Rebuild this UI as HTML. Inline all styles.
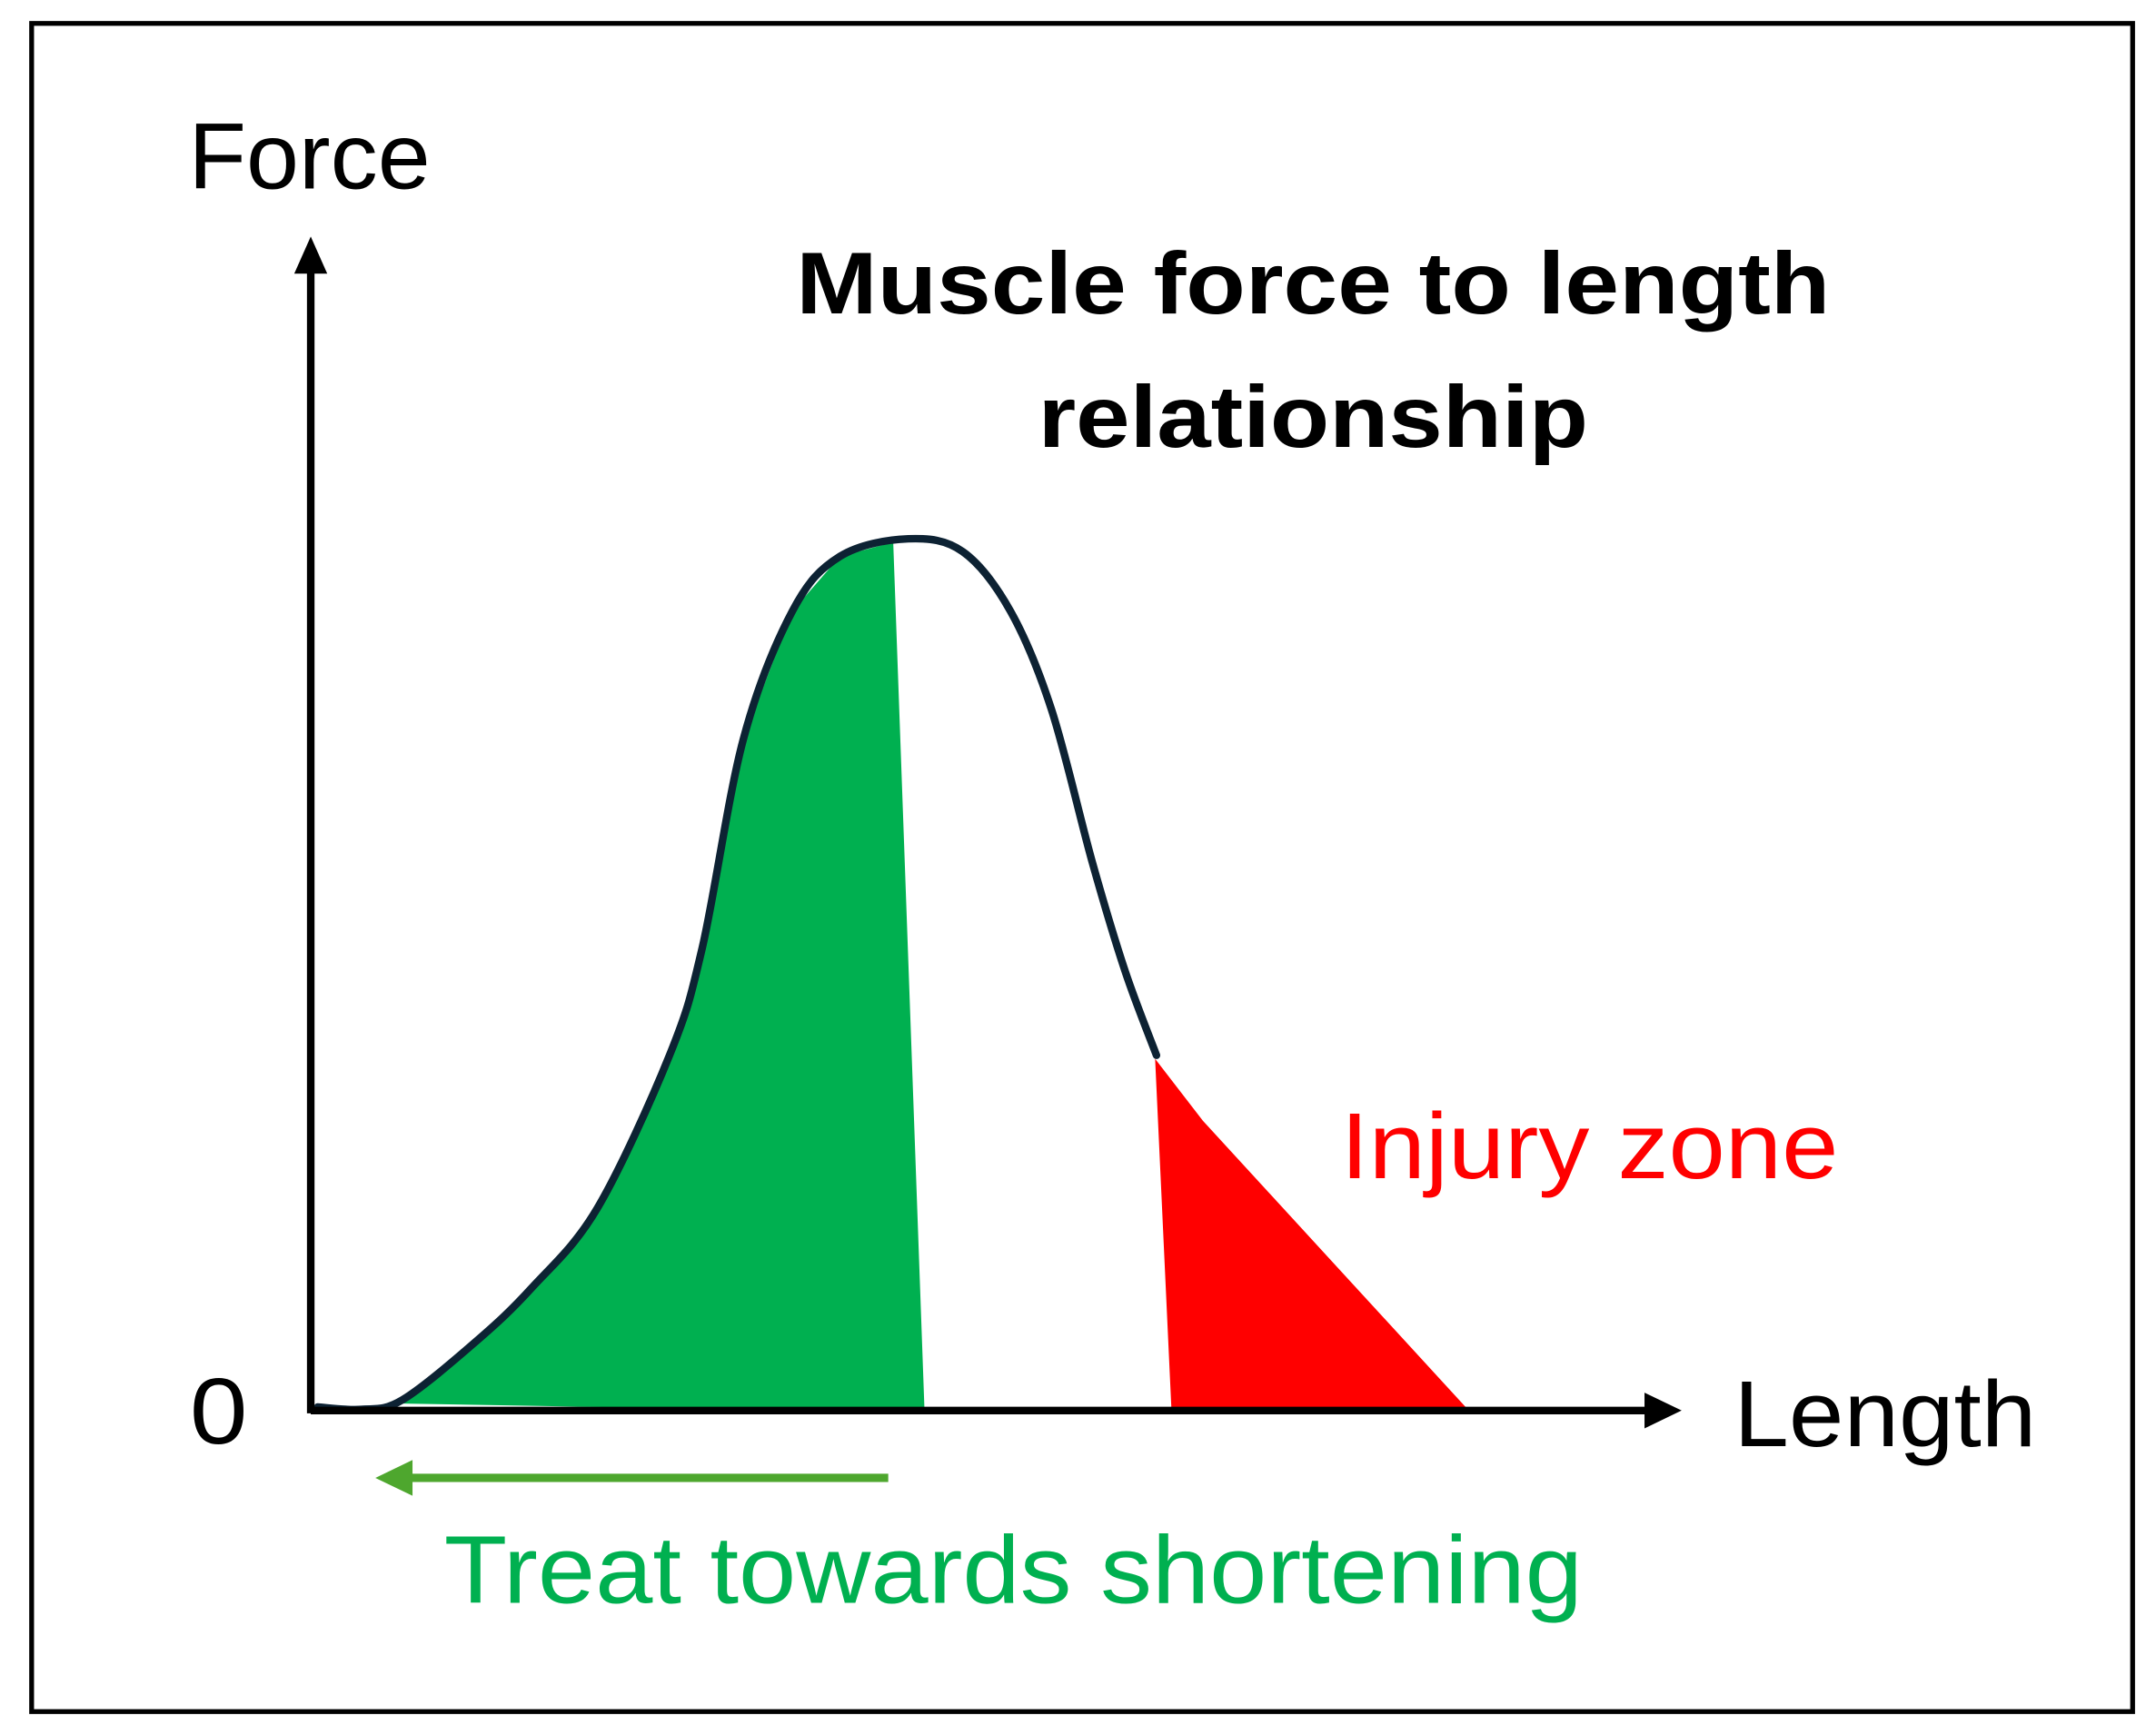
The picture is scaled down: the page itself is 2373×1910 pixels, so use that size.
<!DOCTYPE html>
<html><head><meta charset="utf-8"><style>
html,body{margin:0;padding:0;background:#fff;width:2373px;height:1910px;overflow:hidden}
svg{display:block}
text{font-family:"Liberation Sans",sans-serif}
</style></head><body>
<svg id="chart" width="2373" height="1910" viewBox="0 0 1568 1262" xmlns="http://www.w3.org/2000/svg">
<rect x="23" y="17" width="1528" height="1228" fill="#fff" stroke="#000" stroke-width="3.5"/>
<g id="marks"></g>
<line x1="226" y1="1028" x2="226" y2="192" stroke="#000" stroke-width="5.5"/>
<polygon points="226,172 214,199 238,199" fill="#000"/>
<line x1="226" y1="1026" x2="1200" y2="1026" stroke="#000" stroke-width="5.5"/>
<polygon points="1223,1026 1196,1013 1196,1039" fill="#000"/>
<text x="137" y="137" font-size="68" textLength="176" lengthAdjust="spacingAndGlyphs">Force</text>
<text x="138" y="1050" font-size="68" textLength="42" lengthAdjust="spacingAndGlyphs">0</text>
<text x="1261" y="1052" font-size="68" textLength="220" lengthAdjust="spacingAndGlyphs">Length</text>
<text x="955" y="228" font-size="64" font-weight="bold" text-anchor="middle" textLength="752" lengthAdjust="spacingAndGlyphs">Muscle force to length</text>
<text x="955" y="325" font-size="64" font-weight="bold" text-anchor="middle" textLength="400" lengthAdjust="spacingAndGlyphs">relationship</text>
<text x="975" y="857" font-size="68" fill="#ff0000" textLength="362" lengthAdjust="spacingAndGlyphs">Injury zone</text>
<line x1="646" y1="1075" x2="295" y2="1075" stroke="#4ea72e" stroke-width="6"/>
<polygon points="273,1075 300,1062 300,1088" fill="#4ea72e"/>
<text x="323" y="1166" font-size="70" fill="#00b050" textLength="828" lengthAdjust="spacingAndGlyphs">Treat towards shortening</text>
</svg>
<script>
// data in axis units: length 0-100, force 0-100
const curveLength = [0.1, 3.3, 6.3, 11.7, 15.8, 20.6, 25.9, 28.3, 31.3, 34.9, 38.4, 43.4, 47.4, 50.9, 53.9, 56.9, 59.3, 61.6];
const curveForce  = [0.3, 0.1, 0.9, 5.9, 10.5, 17.3, 30.4, 39.6, 57.4, 68.4, 73.1, 74.6, 73.5, 68.4, 60.0, 46.9, 37.6, 30.4];
const greenLength = [6.3, 11.7, 15.8, 20.6, 25.9, 28.3, 31.3, 34.9, 38.4, 42.3, 44.6, 6.3];
const greenForce  = [0.9, 5.9, 10.5, 17.3, 30.4, 39.6, 57.4, 68.4, 73.1, 74.3, -0.2, 0.6];
const redLength = [61.5, 65.0, 84.5, 62.7];
const redForce  = [30.1, 24.8, 0.0, 0.0];

function xScale(v){ return 230 + v * 9.92; }
function yScale(v){ return 1026 - v * 8.5; }

const NS = 'http://www.w3.org/2000/svg';
const g = document.getElementById('marks');

function poly(ls, fs, fill, name){
  const p = document.createElementNS(NS, 'polygon');
  p.setAttribute('points', ls.map((l,i)=>xScale(l)+','+yScale(fs[i])).join(' '));
  p.setAttribute('fill', fill);
  
  
  g.appendChild(p);
}
poly(greenLength, greenForce, '#00b050', 'optimal-zone-area');
poly(redLength, redForce, '#ff0000', 'injury-zone-area');

const pts = curveLength.map((l,i)=>[xScale(l), yScale(curveForce[i])]);
let d = 'M' + pts[0][0] + ',' + pts[0][1];
for (let i = 0; i < pts.length - 1; i++) {
  const p0 = pts[Math.max(0,i-1)], p1 = pts[i], p2 = pts[i+1], p3 = pts[Math.min(pts.length-1,i+2)];
  const c1 = [p1[0] + (p2[0]-p0[0])/6, p1[1] + (p2[1]-p0[1])/6];
  const c2 = [p2[0] - (p3[0]-p1[0])/6, p2[1] - (p3[1]-p1[1])/6];
  d += ' C' + c1.join(',') + ' ' + c2.join(',') + ' ' + p2.join(',');
}
const path = document.createElementNS(NS, 'path');
path.setAttribute('d', d);
path.setAttribute('fill', 'none');
path.setAttribute('stroke', '#0d2233');
path.setAttribute('stroke-width', '5.5');
path.setAttribute('stroke-linecap', 'round');


g.appendChild(path);
</script>
</body></html>
